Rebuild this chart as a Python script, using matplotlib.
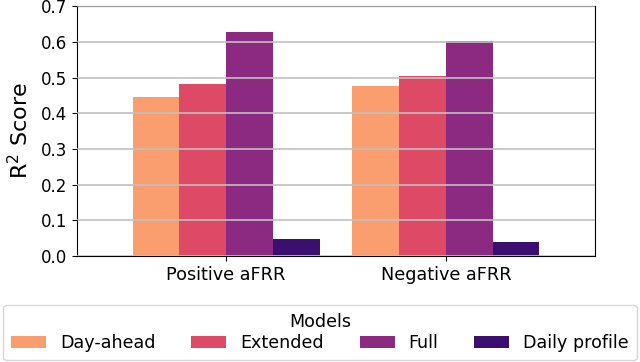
import numpy as np
import matplotlib
matplotlib.use('Agg')
import matplotlib.pyplot as plt

groups = ['Positive aFRR', 'Negative aFRR']
models = ['Day-ahead', 'Extended', 'Full', 'Daily profile']
scores = {
    'Day-ahead': [0.445, 0.476],
    'Extended': [0.483, 0.504],
    'Full': [0.628, 0.603],
    'Daily profile': [0.047, 0.038],
}
colors = ['#FB9E6F', '#DE4965', '#8C2981', '#3B0F70']

fig = plt.figure(figsize=(6.4, 3.62), dpi=100)
ax = fig.add_axes([0.12, 0.293, 0.81, 0.69])

x = np.arange(len(groups))
width = 0.2125
for i, m in enumerate(models):
    ax.bar(x + (i - 1.5) * width, scores[m], width, color=colors[i], label=m)

ax.set_xticks(x)
ax.set_xticklabels(groups, fontsize=12.7)
ax.set_xlim(-0.68, 1.68)
ax.set_ylim(0, 0.7)
ax.set_yticks(np.arange(0, 0.71, 0.1))
ax.set_yticklabels(['%.1f' % v for v in np.arange(0, 0.71, 0.1)], fontsize=12)
ax.set_ylabel('R$^2$ Score', fontsize=16, labelpad=6)
ax.yaxis.grid(True, color='#c0c0c0', linewidth=1.2)
ax.set_axisbelow(False)

fig.legend(title='Models', ncol=4, loc='lower left', mode='expand',
           bbox_to_anchor=(0.005, 0.005, 0.99, 0.16), fontsize=12.6,
           title_fontsize=12.6, handlelength=2.0, borderaxespad=0,
           borderpad=0.45, labelspacing=0.2)

fig.savefig('out.png', dpi=100)
